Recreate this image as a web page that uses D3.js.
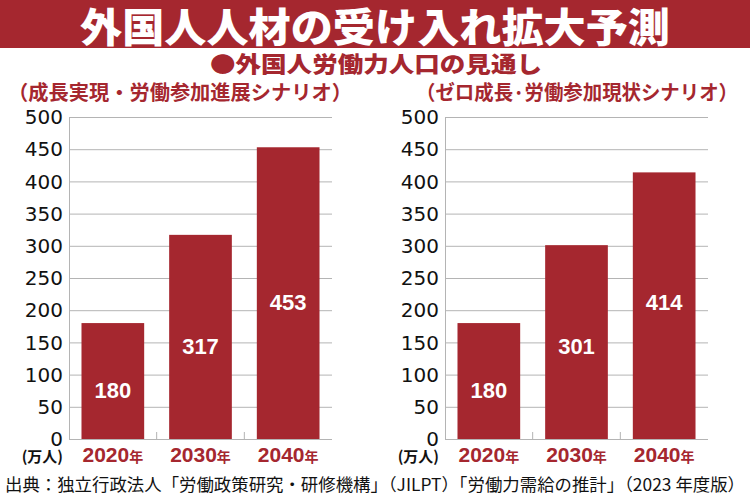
<!DOCTYPE html>
<html>
<head>
<meta charset="utf-8">
<script src="https://cdn.jsdelivr.net/npm/d3@7"></script>
<style>
  body { margin: 0; background: #fff; }
  svg { display: block; }
</style>
</head>
<body>
<div id="chart"></div>
<script>
const years = ["2020", "2030", "2040"];
const growthValues = [180, 317, 453];
const zeroGrowthValues = [180, 301, 414];
const yTicks = [0, 50, 100, 150, 200, 250, 300, 350, 400, 450, 500];
const titleText = "外国人人材の受け入れ拡大予測";
const subtitleText = "●外国人労働力人口の見通し";
const scenarioNames = ["（成長実現・労働参加進展シナリオ）", "（ゼロ成長·労働参加現状シナリオ）"];
const unitText = "(万人)";
const sourceText = "出典：独立行政法人「労働政策研究・研修機構」（JILPT）「労働力需給の推計」（2023 年度版）";

const RED = "#a5272f";
const GRID = "#b4b4b4";
const CJK = "'Noto Sans CJK JP', 'Noto Sans', sans-serif";
const LATIN = "'Liberation Sans', Arial, 'Noto Sans CJK JP', sans-serif";
const WIDE = "'DejaVu Sans', 'Liberation Sans', sans-serif";

/**
 * Appends the svg to the dom.
 */
function appendToDom(width, height) {
    return d3.select("#chart").append("svg")
        .attr("width", width)
        .attr("height", height);
}

/**
 * Draws the red band with the title, the subtitle and the source.
 */
function drawHeader(svg, width) {
    svg.append("rect")
        .attr("x", 0).attr("y", 0)
        .attr("width", width).attr("height", 48)
        .attr("fill", RED);

    svg.append("text")
        .attr("x", width / 2).attr("y", 42)
        .attr("text-anchor", "middle")
        .attr("textLength", 590)
        .attr("lengthAdjust", "spacingAndGlyphs")
        .style("font-family", CJK)
        .style("font-weight", 900)
        .style("font-size", "40px")
        .attr("fill", "#fff")
        .text(titleText);

    svg.append("text")
        .attr("x", 376).attr("y", 72)
        .attr("text-anchor", "middle")
        .attr("textLength", 332)
        .attr("lengthAdjust", "spacingAndGlyphs")
        .style("font-family", CJK)
        .style("font-weight", 900)
        .style("font-size", "22px")
        .attr("fill", RED)
        .text(subtitleText);

    svg.append("text")
        .attr("x", 5).attr("y", 491)
        .attr("textLength", 740)
        .attr("lengthAdjust", "spacingAndGlyphs")
        .style("font-family", CJK)
        .style("font-size", "17px")
        .attr("fill", "#111")
        .text(sourceText);
}

/**
 * Draws one bar chart.
 * @param {Object} svg
 * @param {number[]} values The values of the bars
 * @param {number[]} labelRef Values used to place the bar labels
 * @param {number} left The x position of the y axis
 * @param {string} name The scenario name
 * @param {number[]} nameBox x start and length of the scenario name
 */
function drawPanel(svg, values, labelRef, left, name, nameBox) {
    const width = 263, top = 117, bottom = 439;
    const g = svg.append("g").attr("transform", "translate(" + left + ",0)");

    const x = d3.scaleBand().domain(years).range([0, width])
        .paddingInner(0.285).paddingOuter(0.1425);
    const y = d3.scaleLinear().domain([0, 500]).range([bottom, top]);

    g.append("text")
        .attr("x", nameBox[0] - left).attr("y", 100)
        .attr("textLength", nameBox[1])
        .attr("lengthAdjust", "spacingAndGlyphs")
        .style("font-family", CJK)
        .style("font-weight", 700)
        .style("font-size", "20px")
        .attr("fill", RED)
        .text(name);

    // gridlines
    g.append("g")
        .call(d3.axisLeft(y).tickValues(yTicks).tickSize(-width).tickFormat(""))
        .call(a => a.select(".domain").remove())
        .call(a => a.selectAll("line").attr("stroke", GRID).attr("stroke-width", 1));

    // y labels
    g.append("g")
        .call(d3.axisLeft(y).tickValues(yTicks).tickSize(0).tickPadding(6))
        .call(a => a.select(".domain").attr("stroke", GRID))
        .call(a => a.selectAll("text")
            .attr("dy", "0.33em")
            .style("font-family", WIDE)
            .style("font-size", "20px")
            .attr("fill", "#111"));

    // small ticks between the bars
    g.append("g")
        .selectAll("line")
        .data(years.slice(1))
        .enter()
        .append("line")
        .attr("x1", d => x(d) - x.step() * x.paddingInner() / 2)
        .attr("x2", d => x(d) - x.step() * x.paddingInner() / 2)
        .attr("y1", bottom).attr("y2", bottom - 7)
        .attr("stroke", GRID);

    g.selectAll(".bar")
        .data(values)
        .enter()
        .append("rect")
        .attr("x", (d, i) => x(years[i]))
        .attr("y", d => y(d))
        .attr("width", x.bandwidth())
        .attr("height", d => y(0) - y(d))
        .attr("fill", RED);

    g.selectAll(".val")
        .data(values)
        .enter()
        .append("text")
        .attr("x", (d, i) => x(years[i]) + x.bandwidth() / 2)
        .attr("y", (d, i) => y(labelRef[i] / 2) + 9)
        .attr("dy", "0.36em")
        .attr("text-anchor", "middle")
        .style("font-family", LATIN)
        .style("font-weight", 700)
        .style("font-size", "22px")
        .attr("fill", "#fff")
        .text(d => d);

    const xl = g.selectAll(".year")
        .data(years)
        .enter()
        .append("text")
        .attr("x", d => x(d) + x.bandwidth() / 2)
        .attr("y", 462)
        .attr("text-anchor", "middle")
        .attr("fill", RED)
        .style("font-weight", 700);
    xl.append("tspan")
        .style("font-family", LATIN)
        .style("font-size", "21px")
        .text(d => d);
    xl.append("tspan")
        .style("font-family", CJK)
        .style("font-size", "14px")
        .text("年");

    g.append("text")
        .attr("x", -6).attr("y", 462)
        .attr("text-anchor", "end")
        .style("font-family", CJK)
        .style("font-weight", 700)
        .style("font-size", "15px")
        .attr("fill", "#111")
        .text(unitText);
}

function drawGraph() {
    const svg = appendToDom(750, 500);
    drawHeader(svg, 750);
    const labelRef = years.map((d, i) => Math.max(growthValues[i], zeroGrowthValues[i]));
    drawPanel(svg, growthValues, labelRef, 69, scenarioNames[0], [8, 344]);
    drawPanel(svg, zeroGrowthValues, labelRef, 445, scenarioNames[1], [416, 322]);
}

drawGraph();
</script>
</body>
</html>
